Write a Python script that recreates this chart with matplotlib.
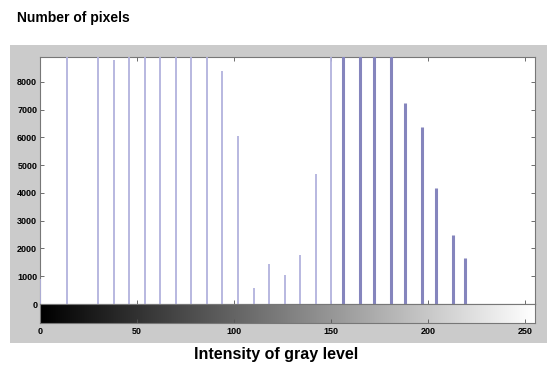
import numpy as np
import matplotlib.pyplot as plt
from matplotlib.patches import Rectangle

plt.rcParams['font.family'] = ['Liberation Sans', 'DejaVu Sans']

# gray level intensities and pixel counts (tall bars are clipped by the axis)
intensity = [0, 14, 30, 38, 46, 54, 62, 70, 78, 86, 94, 102, 110, 118, 126,
             134, 142, 150, 156, 165, 172, 181, 188, 197, 204, 213, 219]
counts = [900, 10500, 10200, 8780, 11000, 10800, 10400, 10900, 10600, 10300,
          8400, 6030, 570, 1450, 1050, 1750, 4680, 10100, 12000, 12500,
          11800, 11200, 7230, 6360, 4180, 2470, 1660]
yticks = [0, 1000, 2000, 3000, 4000, 5000, 6000, 7000, 8000]
xticks = [0, 50, 100, 150, 200, 250]

W, H = 547, 365
fig = plt.figure(figsize=(W / 100, H / 100), dpi=100)
fig.patch.set_facecolor('white')

def box(x0, y0, x1, y1):
    # pixel box (top-left origin) -> figure fraction rect
    return [x0 / W, 1 - y1 / H, (x1 - x0) / W, (y1 - y0) / H]

# gray panel behind the plot
b = box(10, 45, 547, 343)
fig.patches.append(Rectangle((b[0], b[1]), b[2], b[3], transform=fig.transFigure,
                             facecolor='#cbcbcb', edgecolor='none', zorder=-5))

ax = fig.add_axes(box(40, 57, 535, 304))
cax = fig.add_axes(box(40, 304, 535, 323))

x = np.array(intensity)
y = np.array(counts)
light = x < 155
ax.vlines(x[light], 0, y[light], color='#b2b2dd', linewidth=1.3, zorder=3)
ax.vlines(x[~light], 0, y[~light], color='#8585bd', linewidth=2.2, zorder=3)

ax.set_xlim(0, 255)
ax.set_ylim(0, 8890)
ax.set_yticks(yticks)
ax.set_yticklabels([str(v) for v in yticks], fontsize=6.5, fontweight='bold')
ax.set_xticks(xticks)
ax.set_xticklabels([])
ax.tick_params(direction='in', length=3, width=0.6, color='#555555',
               top=True, right=True, pad=2)
for s in ax.spines.values():
    s.set_color('#777777')
    s.set_linewidth(0.8)

grad = np.linspace(0, 1, 256).reshape(1, -1)
cax.imshow(grad, cmap='gray', aspect='auto', extent=(0, 255, 0, 1))
cax.set_xlim(0, 255)
cax.set_yticks([])
cax.set_xticks(xticks)
cax.set_xticklabels([str(v) for v in xticks], fontsize=6.5, fontweight='bold')
cax.tick_params(direction='in', length=3, width=0.6, color='#555555', pad=3)
for s in cax.spines.values():
    s.set_color('#777777')
    s.set_linewidth(0.8)

fig.text(17 / W, 1 - 18 / H, 'Number of pixels', fontsize=10, fontweight='bold',
         ha='left', va='center')
fig.text(276 / W, 1 - 354 / H, 'Intensity of gray level', fontsize=11.5,
         fontweight='bold', ha='center', va='center')

fig.savefig('out.png', dpi=100)
